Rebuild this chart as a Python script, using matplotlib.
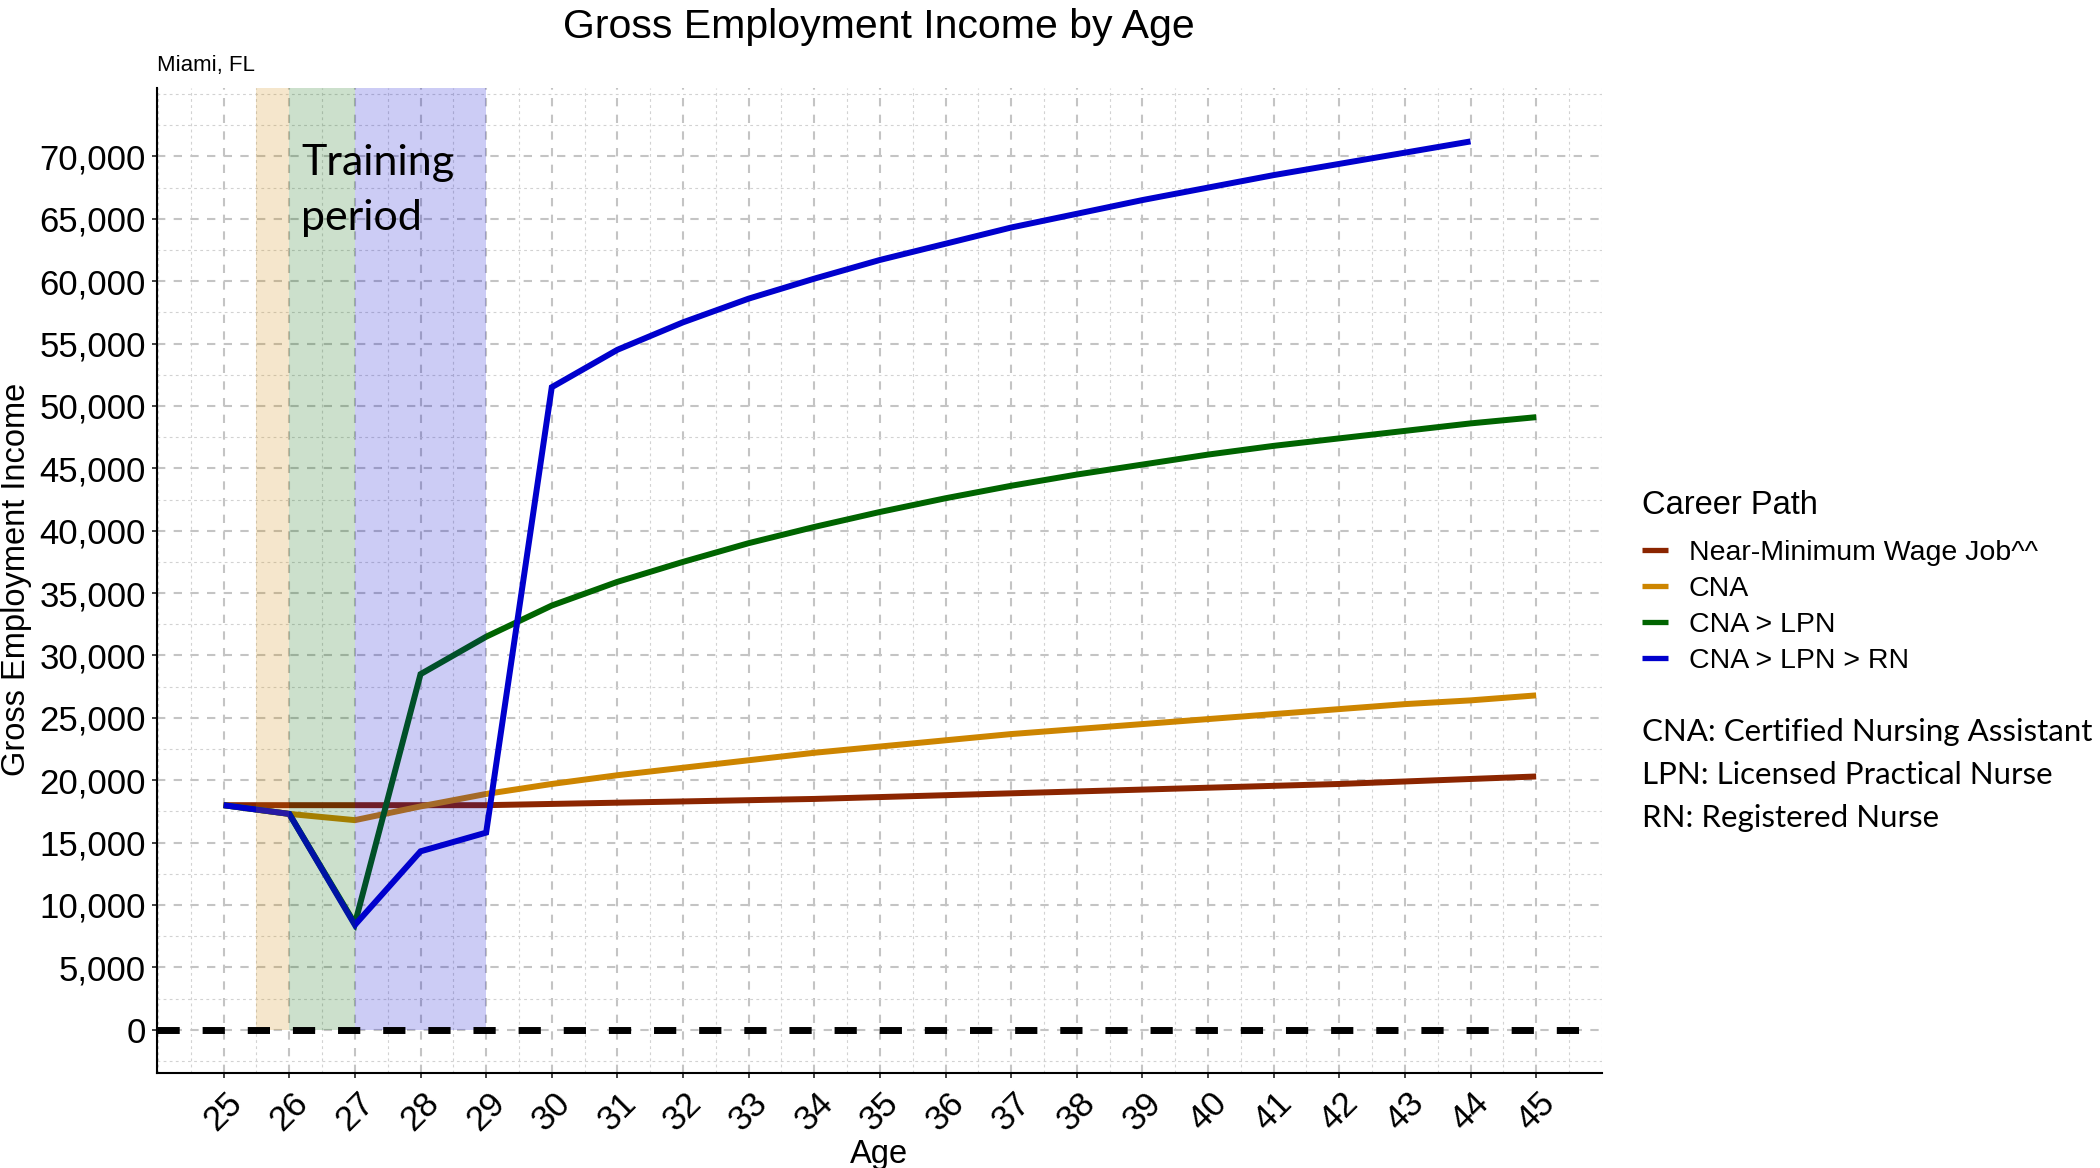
import matplotlib
matplotlib.use("Agg")
import matplotlib.pyplot as plt
from matplotlib.ticker import MultipleLocator, FuncFormatter

# ---------------- data ----------------
ages = list(range(25, 46))
ages_rn = list(range(25, 45))

near_min = [18000, 18000, 18000, 18000, 18000, 18100, 18200, 18300, 18400, 18500,
            18650, 18800, 18950, 19100, 19250, 19400, 19550, 19700, 19900, 20100, 20300]
cna = [18000, 17300, 16800, 17900, 18900, 19700, 20400, 21000, 21600, 22200,
       22700, 23200, 23700, 24100, 24500, 24900, 25300, 25700, 26100, 26400, 26800]
cna_lpn = [18000, 17300, 8500, 28500, 31500, 34000, 35900, 37500, 39000, 40300,
           41500, 42600, 43600, 44500, 45300, 46100, 46800, 47400, 48000, 48600, 49100]
cna_lpn_rn = [18000, 17300, 8400, 14300, 15800, 51500, 54500, 56700, 58600, 60200,
              61700, 63000, 64300, 65400, 66500, 67500, 68500, 69400, 70300, 71200]

series_labels = ["Near-Minimum Wage Job^^", "CNA", "CNA > LPN", "CNA > LPN > RN"]
series_colors = ["#8B2500", "#CD8500", "#006400", "#0000CD"]

span_starts = [25.5, 26, 27]
span_ends = [26, 27, 29]
span_colors = ["#CD8500", "#006400", "#0000CD"]

x_ticks = list(range(25, 46))
y_ticks = list(range(0, 70001, 5000))

notes = ["CNA: Certified Nursing Assistant", "LPN: Licensed Practical Nurse", "RN: Registered Nurse"]

# ---------------- figure ----------------
SANS = ["Liberation Sans", "DejaVu Sans"]
HUMAN = ["Lato", "DejaVu Sans"]
plt.rcParams["font.family"] = SANS

W, H = 2100, 1168
fig = plt.figure(figsize=(W / 100, H / 100), dpi=100)
L, R, T, B = 156.7, 1601.8, 88.4, 1072.8
ax = fig.add_axes([L / W, 1 - B / H, (R - L) / W, (B - T) / H])

ylo, yhi = -3450, 75450
ax.set_xlim(23.98, 46.0)
ax.set_ylim(ylo, yhi)

# grid
ax.xaxis.set_major_locator(MultipleLocator(1))
ax.xaxis.set_minor_locator(MultipleLocator(0.5))
ax.yaxis.set_major_locator(MultipleLocator(5000))
ax.yaxis.set_minor_locator(MultipleLocator(2500))
ax.set_xticks(x_ticks)
ax.set_yticks(y_ticks)
ax.grid(which="major", color="#C4C4C4", linewidth=1.5, linestyle=(0, (4, 4)), zorder=0)
ax.grid(which="minor", color="#D2D2D2", linewidth=0.8, linestyle=(0, (2.5, 3)), zorder=0)
ax.set_axisbelow(True)

# lines
all_x = [ages, ages, ages, ages_rn]
all_y = [near_min, cna, cna_lpn, cna_lpn_rn]
for xs, ys, lab, col in zip(all_x, all_y, series_labels, series_colors):
    ax.plot(xs, ys, color=col, linewidth=4.3, label=lab, zorder=3,
            solid_joinstyle="miter", solid_capstyle="butt")

# training shading (drawn above lines)
for x0, x1, c in zip(span_starts, span_ends, span_colors):
    ax.fill_between([x0, x1], 0, yhi, color=c, alpha=0.2, linewidth=0, zorder=4)

# zero line
ax.plot([23.98, 45.85], [0, 0], color="black", linewidth=5,
        linestyle=(0, (3.2, 3.3)), zorder=5)

ax.text(26.18, 67300, "Training\nperiod", fontsize=31, family=HUMAN,
        ha="left", va="center", linespacing=1.55, zorder=6)

# spines / ticks
for s in ["top", "right"]:
    ax.spines[s].set_visible(False)
for s in ["left", "bottom"]:
    ax.spines[s].set_linewidth(1.5)
    ax.spines[s].set_color("black")
ax.tick_params(which="minor", length=0)
ax.tick_params(which="major", length=3.6, width=1.3, color="#333333")
ax.tick_params(axis="y", labelsize=25, pad=4.3)
ax.tick_params(axis="x", labelsize=25, pad=6)
ax.yaxis.set_major_formatter(FuncFormatter(lambda v, p: f"{int(v):,}"))
for lbl in ax.get_xticklabels():
    lbl.set_rotation(45)
    lbl.set_ha("center")
    lbl.set_va("top")

# titles / labels
fig.text(879 / W, 1 - 37.5 / H, "Gross Employment Income by Age", fontsize=29.5,
         ha="center", va="baseline")
fig.text(156.7 / W, 1 - 70.7 / H, "Miami, FL", fontsize=16, ha="left", va="baseline")
fig.text(25 / W, 1 - 579 / H, "Gross Employment Income", fontsize=23.5, rotation=90,
         rotation_mode="anchor", ha="center", va="baseline")
fig.text(879 / W, 1 - 1163 / H, "Age", fontsize=23.5, ha="center", va="baseline")

# legend
leg = fig.legend(loc="upper left", bbox_to_anchor=(1642 / W, 1 - 490 / H),
                 frameon=False, fontsize=20.5, title="Career Path", title_fontsize=23.5,
                 alignment="left", handlelength=0.9, handletextpad=0.75,
                 labelspacing=0.35, borderpad=0, borderaxespad=0)
for h in leg.get_lines():
    h.set_linewidth(3.8)
leg._legend_box.sep = 14

for i, n in enumerate(notes):
    fig.text(1642 / W, 1 - (732 + 43 * i) / H, n, fontsize=22.5, family=HUMAN,
             ha="left", va="center")

fig.savefig("out.png", dpi=100)
